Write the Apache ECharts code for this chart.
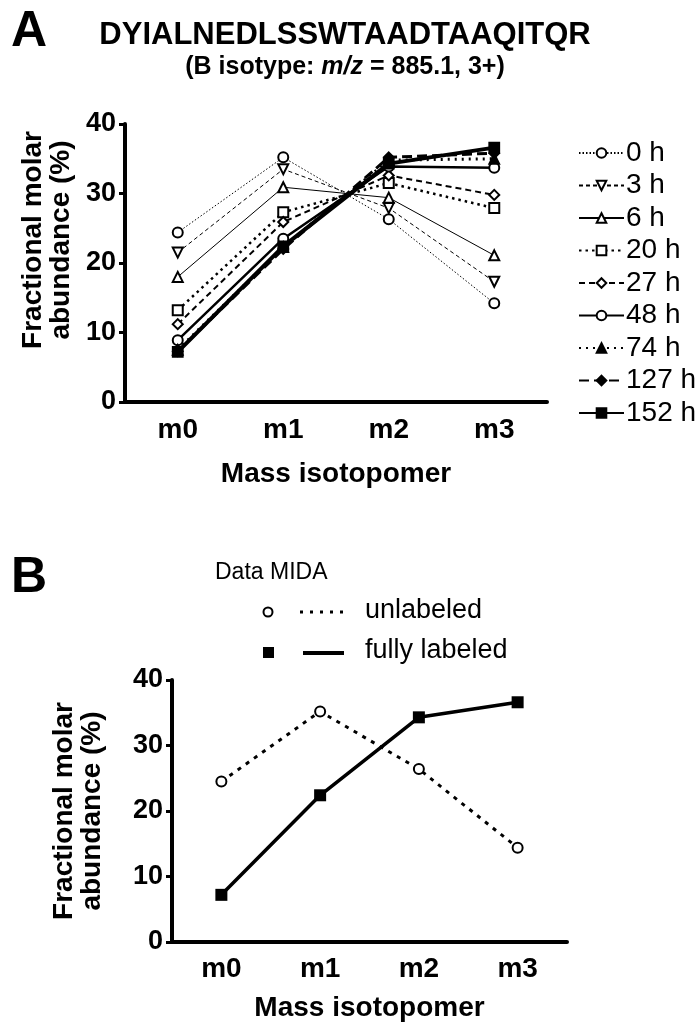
<!DOCTYPE html>
<html>
<head>
<meta charset="utf-8">
<script src="https://cdn.jsdelivr.net/npm/echarts@6/dist/echarts.min.js"></script>
<style>
  html, body { margin: 0; padding: 0; background: #fff; }
  #chart { width: 700px; height: 1031px; }
</style>
</head>
<body>
<div id="chart"></div>
<script>
// data
var categories = ["m0", "m1", "m2", "m3"];
var timeLabels = ["0 h", "3 h", "6 h", "20 h", "27 h", "48 h", "74 h", "127 h", "152 h"];
var h0 = [24.4, 35.2, 26.3, 14.2];
var h3 = [21.5, 33.5, 27.9, 17.3];
var h6 = [18.0, 30.9, 29.4, 21.1];
var h20 = [13.2, 27.3, 31.5, 27.9];
var h27 = [11.2, 25.9, 32.6, 29.8];
var h48 = [8.9, 23.5, 33.9, 33.7];
var h74 = [7.5, 22.3, 34.8, 35.0];
var h127 = [7.3, 22.0, 35.2, 35.8];
var h152 = [7.2, 22.4, 34.3, 36.6];
var midaUnlabeled = [24.5, 35.2, 26.4, 14.4];
var midaFullyLabeled = [7.2, 22.4, 34.3, 36.6];
var yTicks = [0, 10, 20, 30, 40];

var timeSeries = [h0, h3, h6, h20, h27, h48, h74, h127, h152];

var FONT = '"Liberation Sans", Arial, sans-serif';

// line/marker look of each time point
var looks = [
  { symbol: "emptyCircle", rotate: 0, width: 1, type: [1.5, 2] },
  { symbol: "emptyTriangle", rotate: 180, width: 1, type: [4, 3] },
  { symbol: "emptyTriangle", rotate: 0, width: 1, type: "solid" },
  { symbol: "emptyRect", rotate: 0, width: 2.5, type: [2.5, 4] },
  { symbol: "emptyDiamond", rotate: 0, width: 2, type: [6, 4] },
  { symbol: "emptyCircle", rotate: 0, width: 2.5, type: "solid" },
  { symbol: "triangle", rotate: 0, width: 3, type: [2, 5] },
  { symbol: "diamond", rotate: 0, width: 3, type: [10, 5] },
  { symbol: "rect", rotate: 0, width: 4, type: "solid" },
];

function xAxisFor(grid, gap, labelMargin) {
  return {
    type: "category",
    gridIndex: grid,
    data: categories,
    boundaryGap: true,
    name: "Mass isotopomer",
    nameLocation: "middle",
    nameGap: gap,
    nameTextStyle: { fontFamily: FONT, fontWeight: "bold", fontSize: 28, color: "#000" },
    axisLine: { lineStyle: { color: "#000", width: 4 } },
    axisTick: { alignWithLabel: true, length: 8, lineStyle: { color: "#000", width: 4 } },
    axisLabel: { fontFamily: FONT, fontWeight: "bold", fontSize: 28, color: "#000", margin: labelMargin },
    splitLine: { show: false },
  };
}

function yAxisFor(grid, gap, pad) {
  return {
    type: "value",
    gridIndex: grid,
    min: yTicks[0],
    max: yTicks[yTicks.length - 1],
    interval: 10,
    name: "Fractional molar\nabundance (%)",
    nameLocation: "middle",
    nameRotate: 90,
    nameGap: gap,
    nameTextStyle: {
      fontFamily: FONT, fontWeight: "bold", fontSize: 28, lineHeight: 28, color: "#000",
      padding: pad,
    },
    axisLine: { show: true, lineStyle: { color: "#000", width: 4 } },
    axisTick: { show: true, length: 6, lineStyle: { color: "#000", width: 3 } },
    axisLabel: { fontFamily: FONT, fontWeight: "bold", fontSize: 27, color: "#000", margin: 9 },
    splitLine: { show: false },
  };
}

var series = timeSeries.map(function (vals, i) {
  var lk = looks[i];
  return {
    name: timeLabels[i],
    type: "line",
    xAxisIndex: 0,
    yAxisIndex: 0,
    data: vals,
    symbol: lk.symbol,
    symbolRotate: lk.rotate,
    symbolSize: 10,
    lineStyle: { color: "#000", width: lk.width, type: lk.type },
    itemStyle: { color: "#000", borderColor: "#000", borderWidth: 1.8 },
    emphasis: { disabled: true },
    z: 2 + i,
  };
});

series.push({
  name: "unlabeled",
  type: "line",
  xAxisIndex: 1,
  yAxisIndex: 1,
  data: midaUnlabeled,
  symbol: "emptyCircle",
  symbolSize: 10,
  lineStyle: { color: "#000", width: 3, type: [4, 6] },
  itemStyle: { color: "#000", borderColor: "#000", borderWidth: 2 },
  emphasis: { disabled: true },
});
series.push({
  name: "fully labeled",
  type: "line",
  xAxisIndex: 1,
  yAxisIndex: 1,
  data: midaFullyLabeled,
  symbol: "rect",
  symbolSize: 12,
  lineStyle: { color: "#000", width: 3.5, type: "solid" },
  itemStyle: { color: "#000" },
  emphasis: { disabled: true },
});

var chart = echarts.init(document.getElementById("chart"));

var option = {
  backgroundColor: "#fff",
  animation: false,
  textStyle: { fontFamily: FONT, color: "#000" },
  title: [
    {
      text: "A",
      left: 6,
      top: 2,
      textStyle: { fontFamily: FONT, fontWeight: "bold", fontSize: 50, color: "#000" },
    },
    {
      text: "{t|DYIALNEDLSSWTAADTAAQITQR}\n{b|(B isotype: }{i|m/z}{b| = 885.1, 3+)}",
      left: 340,
      top: 14,
      textAlign: "center",
      textStyle: {
        rich: {
          t: { fontFamily: FONT, fontWeight: "bold", fontSize: 31, color: "#000", lineHeight: 33, align: "center" },
          b: { fontFamily: FONT, fontWeight: "bold", fontSize: 25, color: "#000", lineHeight: 30 },
          i: { fontFamily: FONT, fontWeight: "bold", fontStyle: "italic", fontSize: 25, color: "#000", lineHeight: 30 },
        },
      },
    },
    {
      text: "B",
      left: 6,
      top: 548,
      textStyle: { fontFamily: FONT, fontWeight: "bold", fontSize: 50, color: "#000" },
    },
  ],
  legend: {
    data: timeLabels,
    orient: "vertical",
    left: 573,
    top: 134,
    itemWidth: 45,
    itemHeight: 12,
    itemGap: 4.5,
    selectedMode: false,
    textStyle: { fontFamily: FONT, fontSize: 28, lineHeight: 28, color: "#000", padding: [0, 0, 0, -3] },
  },
  grid: [
    { left: 125, top: 124, width: 422, height: 278 },
    { left: 172, top: 680, width: 395, height: 262 },
  ],
  xAxis: [xAxisFor(0, 58, 14), xAxisFor(1, 52, 13)],
  yAxis: [yAxisFor(0, 47, [0, 0, 0, 46]), yAxisFor(1, 66, [0, 0, 0, 0])],
  graphic: [
    {
      type: "text",
      left: 215,
      top: 561,
      style: { text: "Data MIDA", fontFamily: FONT, fontSize: 23, fill: "#000" },
    },
    {
      type: "circle",
      shape: { cx: 268, cy: 612, r: 4.5 },
      style: { fill: "#fff", stroke: "#000", lineWidth: 2 },
    },
    {
      type: "line",
      shape: { x1: 300, y1: 612, x2: 346, y2: 612 },
      style: { stroke: "#000", lineWidth: 3, lineDash: [3, 7] },
    },
    {
      type: "text",
      left: 365,
      top: 597,
      style: { text: "unlabeled", fontFamily: FONT, fontSize: 27, fill: "#000" },
    },
    {
      type: "rect",
      shape: { x: 263, y: 647, width: 11, height: 11 },
      style: { fill: "#000" },
    },
    {
      type: "line",
      shape: { x1: 303, y1: 653, x2: 344, y2: 653 },
      style: { stroke: "#000", lineWidth: 4 },
    },
    {
      type: "text",
      left: 365,
      top: 637,
      style: { text: "fully labeled", fontFamily: FONT, fontSize: 27, fill: "#000" },
    },
  ],
  series: series,
};

chart.setOption(option);
window.addEventListener("resize", function () {
  chart.resize();
});
</script>
</body>
</html>
